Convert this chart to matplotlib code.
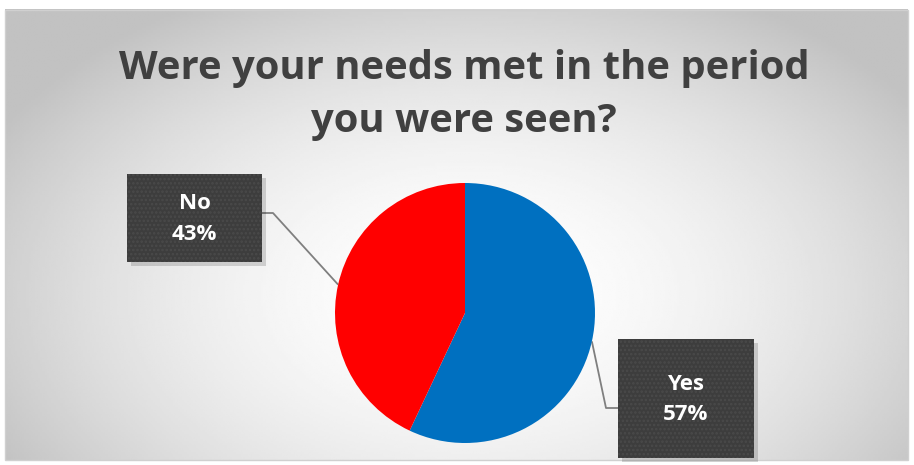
import numpy as np
import matplotlib
matplotlib.use("Agg")
import matplotlib.pyplot as plt
from matplotlib.patches import Rectangle

# Data
labels = ["Yes", "No"]
values = [57, 43]
colors = ["#0070C0", "#FF0000"]
title = "Were your needs met in the period\nyou were seen?"

W, H = 914, 465
fig = plt.figure(figsize=(W / 100, H / 100), dpi=100)
ax = fig.add_axes([0, 0, 1, 1])
ax.set_xlim(0, W)
ax.set_ylim(0, H)
ax.axis("off")

plt.rcParams["hatch.linewidth"] = 1.2

# chart area with radial grey gradient
x0, x1, y0, y1 = 5, 908, 5, 455
gx, gy = np.meshgrid(np.linspace(x0, x1, 400), np.linspace(y0, y1, 200))
r = np.sqrt(((gx - 470) / 540) ** 2 + ((gy - 170) / 340) ** 2)
shade = 1.0 - 0.24 * np.clip(r, 0, 1) ** 1.8
ax.imshow(shade, extent=[x0, x1, y0, y1], origin="lower", cmap="gray",
          vmin=0, vmax=1, aspect="auto", zorder=0, interpolation="bilinear")
ax.add_patch(Rectangle((x0, y0), x1 - x0, y1 - y0, fill=False,
                       edgecolor="#d0d0d0", lw=1, zorder=1))

# title
ax.text(464, H - 95, title, ha="center", va="center", fontsize=28.8,
        fontweight="bold", color="#404040", family="Open Sans",
        linespacing=1.45, zorder=5)

# pie
cx, cy, rad = 465, 152, 130
wedges, _ = ax.pie(values, colors=colors, startangle=90, counterclock=False,
                   center=(cx, cy), radius=rad,
                   wedgeprops=dict(linewidth=0), frame=False)
for w in wedges:
    w.set_zorder(3)
ax.set_xlim(0, W)
ax.set_ylim(0, H)
ax.set_aspect("auto")

# label boxes: (left, bottom, width, height) in pixels and leader elbow
boxes = {
    "No": dict(rect=(127, 203, 135, 88), elbow=(273, 252), side="right"),
    "Yes": dict(rect=(618, 7, 136, 119), elbow=(606, 57), side="left"),
}

start = 90.0
for lab, val in zip(labels, values):
    span = 360.0 * val / sum(values)
    mid = np.deg2rad(start - span / 2)
    start -= span
    ex, ey = cx + rad * np.cos(mid), cy + rad * np.sin(mid)
    b = boxes[lab]
    bx, by, bw, bh = b["rect"]
    kx, ky = b["elbow"]
    attach_x = bx + bw if b["side"] == "right" else bx
    ax.plot([ex, kx, attach_x], [ey, ky, ky], color="#7f7f7f", lw=1.3,
            zorder=2, solid_capstyle="butt")
    # shadow
    ax.add_patch(Rectangle((bx + 4, by - 4), bw, bh, facecolor="#000000",
                           alpha=0.15, lw=0, zorder=3))
    ax.add_patch(Rectangle((bx, by), bw, bh, facecolor="#3d3d3d",
                           edgecolor="#4a4a4a", hatch="....", lw=0, zorder=4))
    ax.text(bx + bw / 2, by + bh / 2 - 1, f"{lab}\n{val}%", ha="center",
            va="center", fontsize=16, fontweight="bold", color="white",
            family="Open Sans", linespacing=1.6, zorder=5)

fig.savefig("out.png", dpi=100, facecolor="white")
